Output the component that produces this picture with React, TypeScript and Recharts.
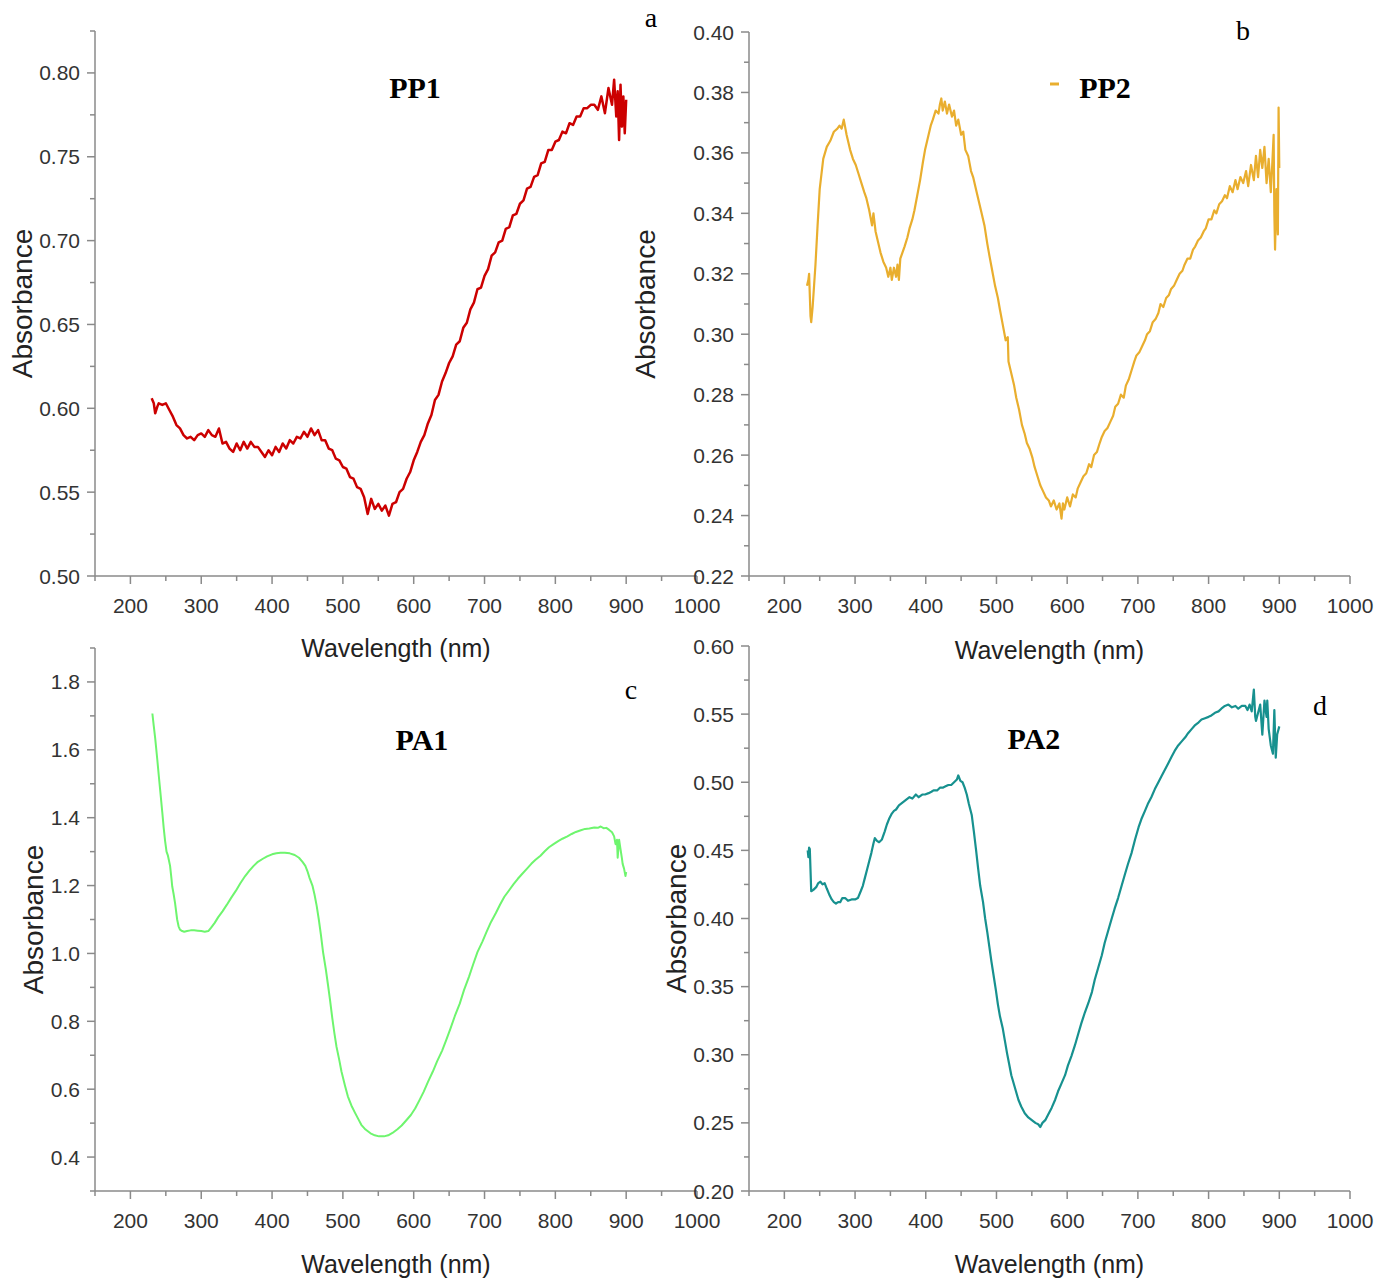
import React from 'react';
import { LineChart, Line, XAxis, YAxis } from 'recharts';

// ---------- shared axis ticks ----------
const X_MAJOR = [200, 300, 400, 500, 600, 700, 800, 900, 1000];
const X_MINOR = [150, 250, 350, 450, 550, 650, 750, 850, 950];

// ---------- PP1 (a) ----------
const PP1_WL = [230,233,235,238,240,245,250,255,260,265,270,275,280,285,290,295,300,305,310,315,320,325,330,335,340,345,350,355,360,365,370,375,380,385,390,395,400,405,410,415,420,425,430,435,440,445,450,455,460,465,470,475,480,485,490,495,500,505,510,515,520,525,530,535,540,545,550,555,560,565,570,575,580,585,590,595,600,605,610,615,620,625,630,635,640,645,650,655,660,665,670,675,680,685,690,695,700,705,710,715,720,725,730,735,740,745,750,755,760,765,770,775,780,785,790,795,800,805,810,815,820,825,830,835,840,845,850,855,860,865,870,875,880,883,886,888,890,892,894,896,898,900];
const PP1_ABS = [0.606,0.603,0.597,0.601,0.603,0.602,0.603,0.599,0.595,0.590,0.588,0.584,0.582,0.583,0.581,0.584,0.585,0.583,0.587,0.584,0.583,0.588,0.579,0.580,0.576,0.574,0.579,0.575,0.580,0.576,0.580,0.577,0.577,0.574,0.571,0.575,0.572,0.577,0.574,0.579,0.576,0.581,0.579,0.583,0.582,0.586,0.583,0.588,0.584,0.587,0.581,0.581,0.576,0.575,0.570,0.569,0.565,0.564,0.559,0.558,0.553,0.552,0.547,0.537,0.546,0.540,0.543,0.539,0.542,0.536,0.543,0.544,0.550,0.552,0.558,0.562,0.569,0.574,0.580,0.584,0.591,0.596,0.605,0.608,0.616,0.621,0.627,0.631,0.638,0.640,0.648,0.651,0.659,0.663,0.671,0.672,0.679,0.683,0.691,0.693,0.699,0.700,0.707,0.708,0.715,0.716,0.722,0.724,0.731,0.732,0.738,0.739,0.746,0.747,0.754,0.754,0.759,0.760,0.765,0.764,0.770,0.769,0.774,0.774,0.779,0.779,0.781,0.781,0.778,0.786,0.776,0.791,0.781,0.796,0.774,0.789,0.760,0.793,0.768,0.786,0.764,0.784];
const PP1_Y_MAJOR = [0.5, 0.55, 0.6, 0.65, 0.7, 0.75, 0.8];
const PP1_Y_MINOR = [0.525, 0.575, 0.625, 0.675, 0.725, 0.775, 0.825];

// ---------- PP2 (b) ----------
const PP2_WL = [232,234,235,237,238,240,244,247,250,255,260,265,270,275,278,281,284,288,293,297,301,305,309,313,316,320,324,326,329,333,336,340,344,347,350,352,355,358,360,362,364,367,370,374,377,381,384,388,392,396,399,403,407,410,414,418,420,422,424,427,430,433,437,440,443,446,450,453,456,460,464,467,471,475,479,483,487,490,494,498,502,505,509,513,516,517,521,525,528,532,536,540,543,547,551,554,558,562,566,570,574,577,581,585,589,592,594,596,600,604,608,612,615,619,623,627,631,634,638,642,646,649,653,657,661,665,668,672,676,680,683,687,691,695,698,702,706,710,713,717,721,725,729,732,736,740,744,747,751,755,759,763,766,770,774,778,781,785,789,793,796,800,804,808,811,815,819,823,826,830,834,838,841,845,849,853,856,860,864,867,870,873,876,879,882,885,888,890,892,893,894,896,898,899,900];
const PP2_ABS = [0.316,0.318,0.320,0.306,0.304,0.309,0.323,0.336,0.348,0.358,0.362,0.364,0.367,0.368,0.369,0.368,0.371,0.366,0.361,0.358,0.356,0.353,0.350,0.347,0.345,0.341,0.336,0.340,0.334,0.330,0.327,0.324,0.322,0.319,0.322,0.318,0.322,0.319,0.323,0.318,0.325,0.327,0.329,0.332,0.335,0.338,0.341,0.346,0.351,0.357,0.361,0.365,0.369,0.371,0.374,0.373,0.376,0.378,0.374,0.377,0.373,0.376,0.372,0.374,0.369,0.371,0.366,0.367,0.361,0.359,0.354,0.352,0.348,0.344,0.340,0.336,0.330,0.326,0.321,0.316,0.312,0.308,0.303,0.298,0.299,0.291,0.287,0.283,0.279,0.275,0.270,0.267,0.264,0.262,0.259,0.256,0.253,0.250,0.248,0.246,0.245,0.243,0.245,0.242,0.244,0.239,0.244,0.242,0.246,0.243,0.247,0.246,0.249,0.251,0.253,0.254,0.257,0.256,0.260,0.261,0.264,0.266,0.268,0.269,0.271,0.273,0.276,0.277,0.280,0.279,0.283,0.285,0.288,0.291,0.293,0.294,0.296,0.298,0.300,0.301,0.304,0.305,0.307,0.310,0.309,0.312,0.313,0.315,0.316,0.318,0.320,0.321,0.323,0.325,0.325,0.328,0.329,0.331,0.332,0.334,0.335,0.338,0.338,0.341,0.340,0.343,0.344,0.346,0.345,0.349,0.347,0.351,0.348,0.352,0.350,0.354,0.349,0.356,0.351,0.359,0.352,0.361,0.355,0.362,0.350,0.358,0.347,0.356,0.366,0.340,0.328,0.348,0.333,0.375,0.355];
const PP2_Y_MAJOR = [0.22, 0.24, 0.26, 0.28, 0.3, 0.32, 0.34, 0.36, 0.38, 0.4];
const PP2_Y_MINOR = [0.23, 0.25, 0.27, 0.29, 0.31, 0.33, 0.35, 0.37, 0.39];

// ---------- PA1 (c) ----------
const PA1_WL = [231,233,235,238,240,243,245,247,249,251,253,256,258,259,261,263,266,268,270,273,276,280,285,290,295,300,305,310,314,319,324,330,336,342,349,355,362,368,374,380,387,393,400,406,412,418,425,432,438,443,447,450,453,457,460,463,466,469,472,476,479,482,485,488,491,495,498,503,507,512,517,522,526,532,539,545,551,558,564,570,577,583,589,596,602,608,614,620,627,633,640,646,652,658,665,671,678,684,690,697,703,709,716,722,728,735,741,747,753,760,766,772,779,785,791,798,804,810,817,823,829,836,842,848,855,860,864,868,872,876,880,883,885,887,888,890,892,894,895,897,899,900];
const PA1_ABS = [1.707,1.670,1.634,1.570,1.525,1.460,1.416,1.370,1.331,1.300,1.288,1.258,1.220,1.198,1.175,1.149,1.100,1.080,1.070,1.066,1.064,1.066,1.068,1.068,1.067,1.066,1.064,1.066,1.076,1.090,1.107,1.124,1.143,1.163,1.185,1.206,1.228,1.244,1.258,1.270,1.279,1.286,1.292,1.295,1.297,1.297,1.295,1.290,1.282,1.270,1.258,1.242,1.222,1.200,1.173,1.140,1.100,1.055,1.004,0.952,0.907,0.860,0.810,0.765,0.725,0.685,0.652,0.610,0.579,0.552,0.531,0.511,0.495,0.481,0.470,0.464,0.461,0.461,0.464,0.471,0.482,0.493,0.507,0.524,0.543,0.567,0.592,0.621,0.652,0.682,0.713,0.745,0.779,0.815,0.852,0.892,0.931,0.968,1.004,1.035,1.064,1.092,1.119,1.144,1.167,1.187,1.204,1.220,1.234,1.250,1.264,1.276,1.288,1.301,1.313,1.323,1.331,1.338,1.345,1.352,1.358,1.363,1.367,1.368,1.371,1.370,1.374,1.369,1.370,1.364,1.357,1.345,1.322,1.335,1.282,1.335,1.307,1.280,1.264,1.250,1.228,1.240];
const PA1_Y_MAJOR = [0.4, 0.6, 0.8, 1.0, 1.2, 1.4, 1.6, 1.8];
const PA1_Y_MINOR = [0.3, 0.5, 0.7, 0.9, 1.1, 1.3, 1.5, 1.7, 1.9];

// ---------- PA2 (d) ----------
const PA2_WL = [233,234,235,236,238,241,245,248,251,254,257,260,264,267,270,273,276,279,282,286,290,295,300,304,308,311,314,317,320,323,326,328,331,334,338,342,345,348,352,355,358,362,367,372,377,381,386,390,395,399,404,408,411,416,420,424,428,432,436,440,444,446,449,452,455,458,461,465,468,471,474,477,481,484,487,490,493,496,499,502,505,509,512,515,518,521,526,531,535,540,545,550,555,559,562,565,569,573,578,583,587,592,597,601,606,611,616,620,625,630,635,639,644,649,653,658,663,667,672,677,682,686,691,696,701,705,710,714,719,724,729,733,738,743,748,752,757,762,767,771,776,781,786,790,795,800,804,809,814,818,823,828,833,838,842,847,852,855,858,861,864,866,867,870,873,876,879,882,883,885,888,891,893,895,897,900];
const PA2_ABS = [0.450,0.445,0.452,0.451,0.420,0.421,0.423,0.426,0.427,0.425,0.426,0.422,0.417,0.414,0.412,0.411,0.412,0.412,0.415,0.415,0.413,0.414,0.414,0.415,0.420,0.424,0.430,0.436,0.442,0.448,0.455,0.459,0.457,0.456,0.458,0.464,0.469,0.473,0.477,0.479,0.480,0.483,0.485,0.487,0.489,0.488,0.491,0.489,0.491,0.491,0.492,0.493,0.494,0.494,0.496,0.496,0.497,0.498,0.498,0.500,0.502,0.505,0.501,0.500,0.496,0.491,0.484,0.476,0.464,0.451,0.437,0.424,0.412,0.400,0.390,0.379,0.368,0.358,0.348,0.337,0.328,0.319,0.310,0.301,0.293,0.285,0.276,0.267,0.262,0.257,0.254,0.252,0.250,0.249,0.247,0.250,0.252,0.256,0.261,0.267,0.273,0.279,0.285,0.292,0.299,0.307,0.316,0.323,0.331,0.338,0.346,0.355,0.364,0.373,0.382,0.391,0.400,0.407,0.415,0.424,0.433,0.440,0.448,0.458,0.467,0.473,0.479,0.484,0.489,0.495,0.500,0.504,0.509,0.514,0.519,0.523,0.527,0.530,0.533,0.536,0.539,0.542,0.544,0.546,0.547,0.548,0.549,0.551,0.552,0.554,0.556,0.557,0.555,0.556,0.554,0.556,0.556,0.553,0.557,0.552,0.568,0.548,0.545,0.551,0.557,0.535,0.560,0.548,0.560,0.539,0.527,0.521,0.553,0.518,0.535,0.541];
const PA2_Y_MAJOR = [0.2, 0.25, 0.3, 0.35, 0.4, 0.45, 0.5, 0.55, 0.6];
const PA2_Y_MINOR = [0.225, 0.275, 0.325, 0.375, 0.425, 0.475, 0.525, 0.575];

// ---------- styling ----------
const AXIS = '#8a8a8a';
const TICK_TEXT = '#333333';
const SANS = '"Liberation Sans", Arial, sans-serif';
const SERIF = '"Liberation Serif", "Times New Roman", serif';
const Y_AXIS_W = 80;

const X_TICKS = [...X_MAJOR, ...X_MINOR].sort((a, b) => a - b);

const isIn = (v: number, arr: number[]) => arr.some((m) => Math.abs(m - v) < 1e-6);

function renderXTick(tp: any) {
  const { x, y, payload } = tp;
  const v = payload.value as number;
  const major = isIn(v, X_MAJOR);
  return (
    <g>
      <line x1={x} y1={y} x2={x} y2={y + (major ? 8 : 5)} stroke={AXIS} strokeWidth={1.5} />
      {major && (
        <text x={x} y={y + 29} textAnchor="middle" dominantBaseline="central" fontFamily={SANS} fontSize={21} fill={TICK_TEXT}>
          {String(v)}
        </text>
      )}
    </g>
  );
}

function makeYTick(majors: number[], digits: number) {
  return (tp: any) => {
    const { x, y, payload } = tp;
    const v = payload.value as number;
    const major = isIn(v, majors);
    return (
      <g>
        <line x1={x - (major ? 8 : 5)} y1={y} x2={x} y2={y} stroke={AXIS} strokeWidth={1.5} />
        {major && (
          <text x={x - 15} y={y} textAnchor="end" dominantBaseline="central" fontFamily={SANS} fontSize={21} fill={TICK_TEXT}>
            {v.toFixed(digits)}
          </text>
        )}
      </g>
    );
  };
}

type PanelProps = {
  left: number;
  top: number;
  width: number;
  height: number;
  margin: { top: number; right: number; bottom: number; left: number };
  xAxisHeight: number;
  wl: number[];
  abs: number[];
  color: string;
  lineWidth: number;
  yDomain: [number, number];
  yMajor: number[];
  yMinor: number[];
  yDigits: number;
  yTitleGap: number;
  xTitleGap: number;
};

function Panel(p: PanelProps) {
  const data = p.wl.map((w, i) => ({ wl: w, v: p.abs[i] }));
  const yTicks = [...p.yMajor, ...p.yMinor].sort((a, b) => a - b);
  const plotLeft = p.margin.left + Y_AXIS_W;
  const plotRight = p.width - p.margin.right;
  const plotTop = p.margin.top;
  const plotBottom = p.height - p.margin.bottom - p.xAxisHeight;
  const xTitle = () => (
    <text
      x={(plotLeft + plotRight) / 2}
      y={plotBottom + p.xTitleGap}
      textAnchor="middle"
      dominantBaseline="central"
      fontFamily={SANS}
      fontSize={25}
      fill="#222"
    >
      Wavelength (nm)
    </text>
  );
  const yTitle = () => {
    const tx = plotLeft - p.yTitleGap;
    const ty = (plotTop + plotBottom) / 2;
    return (
      <text
        x={tx}
        y={ty}
        transform={`rotate(-90 ${tx} ${ty})`}
        textAnchor="middle"
        dominantBaseline="central"
        fontFamily={SANS}
        fontSize={28}
        fill="#222"
      >
        Absorbance
      </text>
    );
  };
  return (
    <div style={{ position: 'absolute', left: p.left, top: p.top }}>
      <LineChart width={p.width} height={p.height} data={data} margin={p.margin}>
        <XAxis
          dataKey="wl"
          type="number"
          domain={[150, 1000]}
          ticks={X_TICKS}
          interval={0}
          allowDataOverflow
          height={p.xAxisHeight}
          tickLine={false}
          tickSize={0}
          tickMargin={0}
          axisLine={{ stroke: AXIS, strokeWidth: 1.5 }}
          tick={renderXTick}
          label={xTitle}
        />
        <YAxis
          type="number"
          domain={p.yDomain}
          ticks={yTicks}
          interval={0}
          allowDataOverflow
          width={Y_AXIS_W}
          tickLine={false}
          tickSize={0}
          tickMargin={0}
          axisLine={{ stroke: AXIS, strokeWidth: 1.5 }}
          tick={makeYTick(p.yMajor, p.yDigits)}
          label={yTitle}
        />
        <Line
          type="linear"
          dataKey="v"
          stroke={p.color}
          strokeWidth={p.lineWidth}
          strokeLinejoin="round"
          dot={false}
          activeDot={false}
          isAnimationActive={false}
        />
      </LineChart>
    </div>
  );
}

export default function App() {
  return (
    <div style={{ position: 'absolute', left: 0, top: 0, width: 1378, height: 1284, background: '#fff', overflow: 'hidden' }}>
      <Panel
        left={0}
        top={0}
        width={740}
        height={680}
        margin={{ top: 31, right: 43, bottom: 0, left: 15 }}
        xAxisHeight={104}
        wl={PP1_WL}
        abs={PP1_ABS}
        color="#cc0000"
        lineWidth={2.5}
        yDomain={[0.5, 0.825]}
        yMajor={PP1_Y_MAJOR}
        yMinor={PP1_Y_MINOR}
        yDigits={2}
        yTitleGap={73}
        xTitleGap={72}
      />
      <Panel
        left={620}
        top={0}
        width={758}
        height={680}
        margin={{ top: 32, right: 28, bottom: 0, left: 49 }}
        xAxisHeight={104}
        wl={PP2_WL}
        abs={PP2_ABS}
        color="#e9ae2e"
        lineWidth={2.2}
        yDomain={[0.22, 0.4]}
        yMajor={PP2_Y_MAJOR}
        yMinor={PP2_Y_MINOR}
        yDigits={2}
        yTitleGap={104}
        xTitleGap={74}
      />
      <Panel
        left={0}
        top={600}
        width={740}
        height={684}
        margin={{ top: 48, right: 43, bottom: 0, left: 15 }}
        xAxisHeight={93}
        wl={PA1_WL}
        abs={PA1_ABS}
        color="#6ef56e"
        lineWidth={2}
        yDomain={[0.3, 1.9]}
        yMajor={PA1_Y_MAJOR}
        yMinor={PA1_Y_MINOR}
        yDigits={1}
        yTitleGap={62}
        xTitleGap={73}
      />
      <Panel
        left={620}
        top={600}
        width={758}
        height={684}
        margin={{ top: 46, right: 28, bottom: 0, left: 49 }}
        xAxisHeight={93}
        wl={PA2_WL}
        abs={PA2_ABS}
        color="#17918f"
        lineWidth={2.2}
        yDomain={[0.2, 0.6]}
        yMajor={PA2_Y_MAJOR}
        yMinor={PA2_Y_MINOR}
        yDigits={2}
        yTitleGap={73}
        xTitleGap={73}
      />
      <svg
        width={1378}
        height={1284}
        style={{ position: 'absolute', left: 0, top: 0, pointerEvents: 'none' }}
      >
        <g fontFamily={SERIF} fill="#000">
          <text x={651} y={27} textAnchor="middle" fontSize={28}>a</text>
          <text x={1243} y={40} textAnchor="middle" fontSize={28}>b</text>
          <text x={631} y={699} textAnchor="middle" fontSize={28}>c</text>
          <text x={1320} y={715} textAnchor="middle" fontSize={28}>d</text>
          <text x={415} y={98} textAnchor="middle" fontSize={30} fontWeight="bold">PP1</text>
          <line x1={1050} y1={84} x2={1059} y2={84} stroke="#e9ae2e" strokeWidth={3} />
          <text x={1105} y={98} textAnchor="middle" fontSize={30} fontWeight="bold">PP2</text>
          <text x={422} y={750} textAnchor="middle" fontSize={30} fontWeight="bold">PA1</text>
          <text x={1034} y={749} textAnchor="middle" fontSize={30} fontWeight="bold">PA2</text>
        </g>
      </svg>
    </div>
  );
}
